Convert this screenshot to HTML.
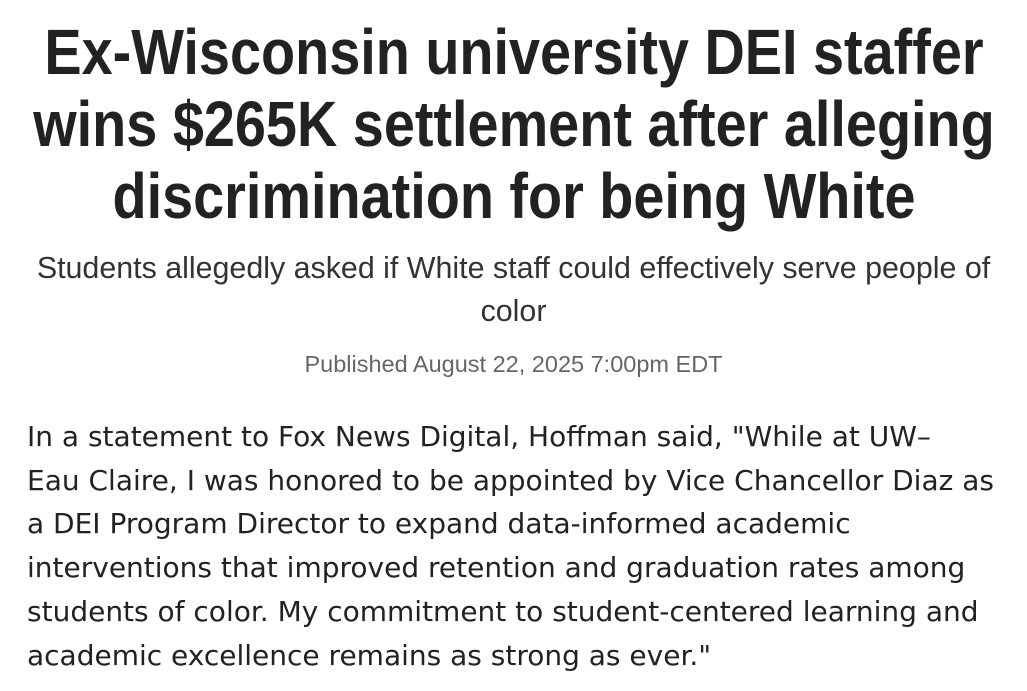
<!DOCTYPE html>
<html><head><meta charset="utf-8"><style>
html,body{margin:0;padding:0;background:#fff;width:1027px;height:691px;overflow:hidden}
.t{position:absolute;left:0;width:1027px;text-align:center;white-space:nowrap}
h1{margin:0;width:1400px;margin-left:-186.5px;text-align:center;font-family:"Liberation Sans",sans-serif;font-weight:bold;font-size:64px;color:#222;transform:scaleX(0.872);transform-origin:700px 0}
.sub{font-family:"Liberation Sans",sans-serif;font-weight:300;font-size:30.4px;color:#333}
.pub{font-family:"Liberation Sans",sans-serif;font-size:23.5px;color:#666}
.body{position:absolute;left:27px;top:415px;font-family:"DejaVu Sans","Liberation Sans",sans-serif;font-size:28px;line-height:43.7px;color:#222;white-space:nowrap}
</style></head><body>
<div class="t" style="top:16px">
<h1 style="line-height:72px">Ex-Wisconsin university DEI staffer<br>wins $265K settlement after alleging<br>discrimination for being White</h1></div>
<div class="t sub" style="top:247px;line-height:43px">Students allegedly asked if White staff could effectively serve people of<br>color</div>
<div class="t pub" style="top:351px">Published August 22, 2025 7:00pm EDT</div>
<div class="body">In a statement to Fox News Digital, Hoffman said, "While at UW–<br>Eau Claire, I was honored to be appointed by Vice Chancellor Diaz as<br>a DEI Program Director to expand data-informed academic<br>interventions that improved retention and graduation rates among<br>students of color. My commitment to student-centered learning and<br>academic excellence remains as strong as ever."</div>
</body></html>
